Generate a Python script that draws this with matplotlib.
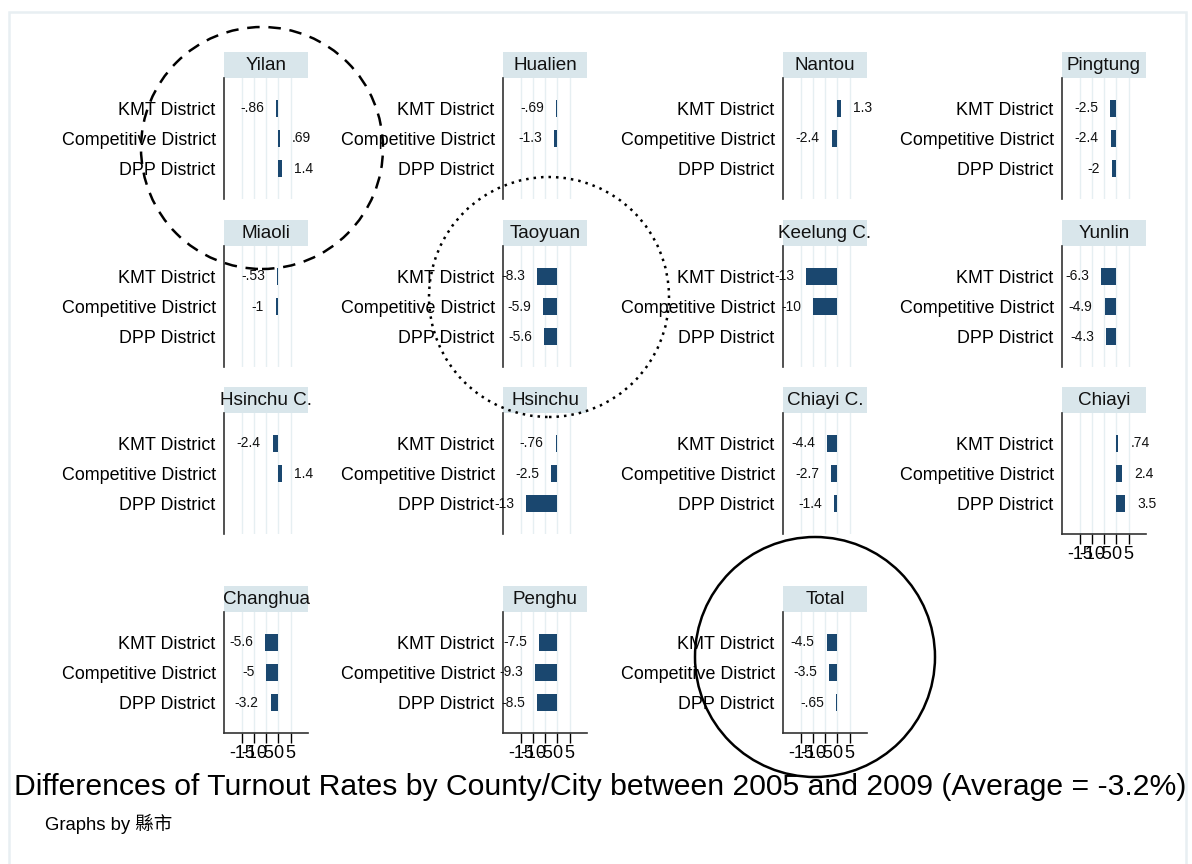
#!/usr/bin/env python3

import numpy as np
import matplotlib
matplotlib.use('Agg')
import matplotlib.pyplot as plt
from matplotlib.patches import Rectangle, Ellipse

plt.rcParams['font.family'] = ['Liberation Sans', 'Noto Sans CJK TC']
plt.rcParams['axes.unicode_minus'] = False

# turnout difference (2009 - 2005), percentage points
counties = ['Yilan', 'Hualien', 'Nantou', 'Pingtung',
            'Miaoli', 'Taoyuan', 'Keelung C.', 'Yunlin',
            'Hsinchu C.', 'Hsinchu', 'Chiayi C.', 'Chiayi',
            'Changhua', 'Penghu', 'Total']
kmt = [-0.86, -0.69, 1.3, -2.5,
       -0.53, -8.3, -13, -6.3,
       -2.4, -0.76, -4.4, 0.74,
       -5.6, -7.5, -4.5]
competitive = [0.69, -1.3, -2.4, -2.4,
               -1, -5.9, -10, -4.9,
               1.4, -2.5, -2.7, 2.4,
               -5, -9.3, -3.5]
dpp = [1.4, np.nan, np.nan, -2,
       np.nan, -5.6, np.nan, -4.3,
       np.nan, -13, -1.4, 3.5,
       -3.2, -8.5, -0.65]
district_labels = ['KMT District', 'Competitive District', 'DPP District']
x_ticks = [-15, -10, -5, 0, 5]

TITLE = 'Differences of Turnout Rates by County/City between 2005 and 2009 (Average = -3.2%)'
NOTE = 'Graphs by 縣市'

BAR = '#1a476f'
STRIP = '#d9e6eb'
GRID = '#e6eff2'

W, H = 1192, 864
COL_LEFT = [224, 503, 783, 1062]
ROW_TOP = [78, 246, 413, 612]
AX_W, AX_H, STRIP_H = 84, 121, 26


def fmt(v):
    s = f'{v:.2g}'
    return s.replace('0.', '.')


def px_axes(fig, left, top, width, height):
    return fig.add_axes([left / W, 1 - (top + height) / H, width / W, height / H])


def draw_panel(ax, name, vals, show_x):
    ypos = np.arange(1, 4)
    vals = np.array(vals, dtype=float)
    ok = ~np.isnan(vals)
    ax.barh(ypos[ok], vals[ok], height=0.57, color=BAR, zorder=3)
    for y, v in zip(ypos[ok], vals[ok]):
        off = 12 if v >= 0 else -12
        ax.annotate(fmt(v), (v, y), xytext=(off, 0), textcoords='offset pixels',
                    ha='left' if v >= 0 else 'right', va='center',
                    fontsize=10, color='#111111', zorder=4)

    ax.set_xlim(-22.5, 12.2)
    ax.set_ylim(4, 0)
    ax.set_yticks(ypos)
    ax.set_yticklabels(district_labels, fontsize=12.9)
    ax.tick_params(axis='y', length=0, pad=6)
    ax.set_xticks(x_ticks)
    for x in x_ticks:
        ax.axvline(x, color=GRID, lw=1, zorder=1)

    for s in ['top', 'right']:
        ax.spines[s].set_visible(False)
    ax.spines['left'].set_color('#333333')
    ax.spines['left'].set_linewidth(1.2)
    if show_x:
        ax.spines['bottom'].set_color('#333333')
        ax.spines['bottom'].set_linewidth(1.2)
        ax.tick_params(axis='x', length=7, width=1, pad=1.5, labelsize=13)
    else:
        ax.spines['bottom'].set_visible(False)
        ax.tick_params(axis='x', length=0, labelbottom=False)

    # panel strip
    sh = STRIP_H / AX_H
    ax.add_patch(Rectangle((0, 1), 1, sh, transform=ax.transAxes,
                           facecolor=STRIP, edgecolor='none', clip_on=False))
    ax.text(0.5, 1 + sh / 2, name, transform=ax.transAxes, ha='center',
            va='center', fontsize=13.6, color='#111111')


def main():
    fig = plt.figure(figsize=(W / 100, H / 100), dpi=100)

    # light outer frame
    fig.add_artist(Rectangle((9 / W, -0.05), (1186 - 9) / W, 1.05 - 12 / H,
                             transform=fig.transFigure, fill=False,
                             edgecolor='#e8eff2', lw=1.8))

    n = len(counties)
    for i, name in enumerate(counties):
        row, col = divmod(i, 4)
        ax = px_axes(fig, COL_LEFT[col], ROW_TOP[row], AX_W, AX_H)
        vals = [kmt[i], competitive[i], dpp[i]]
        draw_panel(ax, name, vals, show_x=(i + 4 >= n))

    t = fig.text(14 / W, 1 - 795 / H, TITLE, fontsize=17, va='baseline')
    fig.canvas.draw()
    w = t.get_window_extent().width
    t.set_fontsize(17 * 1174 / w)

    fig.text(45 / W, 1 - 830 / H, NOTE, fontsize=13.3, va='baseline')

    # hand-drawn highlight circles (centre x, centre y, radius in pixels)
    circles = [((262, 148), 121, (0, (5, 3.5))),
               ((549, 297), 120, (0, (1, 2))),
               ((815, 657), 120, '-')]
    for (cx, cy), r, ls in circles:
        fig.add_artist(Ellipse((cx / W, 1 - cy / H), 2 * r / W, 2 * r / H,
                               transform=fig.transFigure, fill=False,
                               edgecolor='black', lw=1.8, linestyle=ls))

    fig.savefig('out.png', dpi=100)


if __name__ == '__main__':
    main()
